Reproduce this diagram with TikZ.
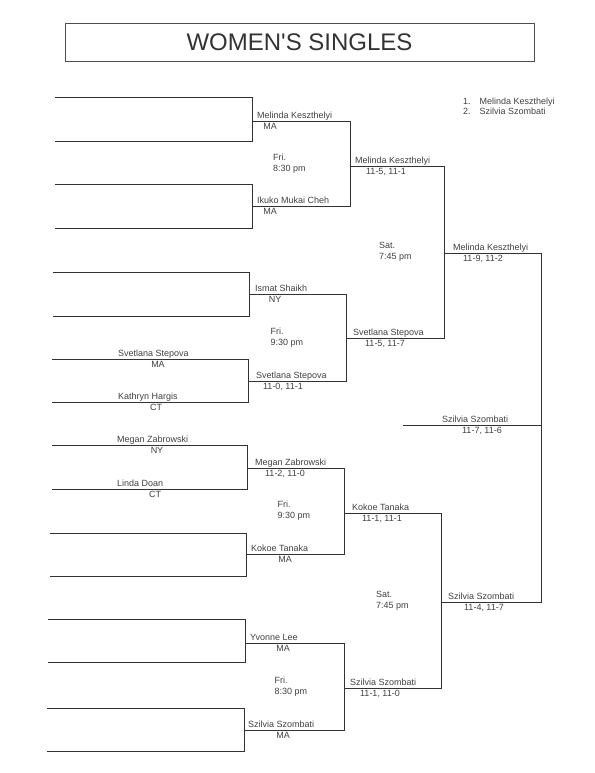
\documentclass[tikz,border=0pt]{standalone}
\usepackage{fontspec}
\setmainfont{Liberation Sans}
\usetikzlibrary{positioning,calc}

\newcommand{\slotsize}{\fontsize{9}{11}\selectfont}

\begin{document}
\begin{tikzpicture}[x=1pt, y=-1pt,
        bline/.style={draw=black!80, line width=0.7pt},
        lbl/.style={font=\slotsize, text=black!75, inner sep=0pt},
        nm/.style={lbl, anchor=base west},
        sb/.style={lbl, anchor=north}]
        \useasboundingbox (0,0) rectangle (594,773);

        \node[draw=black!70, line width=0.6pt, minimum width=469pt, minimum height=38pt, font=\fontsize{24}{28}\selectfont, text=black!80] (title) at (299.5,42.5) {WOMEN\textquotesingle S SINGLES};

        \node[lbl, align=left, font=\fontsize{9}{9.5}\selectfont, anchor=north west] (seeds) at (463,98) {1.\hspace{9pt}Melinda Keszthelyi\\2.\hspace{9pt}Szilvia Szombati};

        % first round
        \coordinate (s1l) at (55,97);    \coordinate (s1r) at (252,97);
        \coordinate (s2l) at (55,141);   \coordinate (s2r) at (252,141);
        \coordinate (s3l) at (55,184);   \coordinate (s3r) at (252,184);
        \coordinate (s4l) at (55,228);   \coordinate (s4r) at (252,228);
        \coordinate (s5l) at (53,272);   \coordinate (s5r) at (249,272);
        \coordinate (s6l) at (53,316);   \coordinate (s6r) at (249,316);
        \coordinate (s7l) at (52,359);   \coordinate (s7r) at (248,359);
        \coordinate (s8l) at (52,402);   \coordinate (s8r) at (248,402);
        \coordinate (s9l) at (52,445);   \coordinate (s9r) at (247,445);
        \coordinate (s10l) at (52,489);  \coordinate (s10r) at (247,489);
        \coordinate (s11l) at (50,533);  \coordinate (s11r) at (246,533);
        \coordinate (s12l) at (50,576);  \coordinate (s12r) at (246,576);
        \coordinate (s13l) at (48,619);  \coordinate (s13r) at (245,619);
        \coordinate (s14l) at (48,662);  \coordinate (s14r) at (245,662);
        \coordinate (s15l) at (47,708);  \coordinate (s15r) at (244,708);
        \coordinate (s16l) at (47,751);  \coordinate (s16r) at (244,751);

        \draw[bline] (s1l) -- (s1r) -- (s2r) -- (s2l);
        \draw[bline] (s3l) -- (s3r) -- (s4r) -- (s4l);
        \draw[bline] (s5l) -- (s5r) -- (s6r) -- (s6l);
        \draw[bline] (s7l) -- (s7r) -- (s8r) -- (s8l);
        \draw[bline] (s9l) -- (s9r) -- (s10r) -- (s10l);
        \draw[bline] (s11l) -- (s11r) -- (s12r) -- (s12l);
        \draw[bline] (s13l) -- (s13r) -- (s14r) -- (s14l);
        \draw[bline] (s15l) -- (s15r) -- (s16r) -- (s16l);

        \node[above right=2.5pt and 66pt of s7l, nm] (s7n) {Svetlana Stepova};
        \node[below right=2pt and 106pt of s7l, sb] (s7s) {MA};
        \node[above right=2.5pt and 66pt of s8l, nm] (s8n) {Kathryn Hargis};
        \node[below right=2pt and 104pt of s8l, sb] (s8s) {CT};
        \node[above right=2.5pt and 65pt of s9l, nm] (s9n) {Megan Zabrowski};
        \node[below right=2pt and 105pt of s9l, sb] (s9s) {NY};
        \node[above right=2.5pt and 65pt of s10l, nm] (s10n) {Linda Doan};
        \node[below right=2pt and 103pt of s10l, sb] (s10s) {CT};

        % second round
        \coordinate (q1l) at (252,121);  \coordinate (q1r) at (350,121);
        \coordinate (q2l) at (252,206);  \coordinate (q2r) at (350,206);
        \coordinate (q3l) at (249,294);  \coordinate (q3r) at (346,294);
        \coordinate (q4l) at (248,381);  \coordinate (q4r) at (346,381);
        \coordinate (q5l) at (247,468);  \coordinate (q5r) at (344,468);
        \coordinate (q6l) at (246,554);  \coordinate (q6r) at (344,554);
        \coordinate (q7l) at (245,643);  \coordinate (q7r) at (344,643);
        \coordinate (q8l) at (244,730);  \coordinate (q8r) at (344,730);

        \draw[bline] (q1l) -- (q1r) -- (q2r) -- (q2l);
        \draw[bline] (q3l) -- (q3r) -- (q4r) -- (q4l);
        \draw[bline] (q5l) -- (q5r) -- (q6r) -- (q6l);
        \draw[bline] (q7l) -- (q7r) -- (q8r) -- (q8l);

        \node[above right=2.5pt and 5pt of q1l, nm] (q1n) {Melinda Keszthelyi};
        \node[below right=2pt and 18pt of q1l, sb] (q1s) {MA};
        \node[above right=2.5pt and 5pt of q2l, nm] (q2n) {Ikuko Mukai Cheh};
        \node[below right=2pt and 18pt of q2l, sb] (q2s) {MA};
        \node[above right=2.5pt and 6pt of q3l, nm] (q3n) {Ismat Shaikh};
        \node[below right=2.5pt and 26pt of q3l, sb] (q3s) {NY};
        \node[above right=2.5pt and 8pt of q4l, nm] (q4n) {Svetlana Stepova};
        \node[below right=2.5pt and 35pt of q4l, sb] (q4s) {11-0, 11-1};
        \node[above right=2.5pt and 8pt of q5l, nm] (q5n) {Megan Zabrowski};
        \node[below right=2.5pt and 38pt of q5l, sb] (q5s) {11-2, 11-0};
        \node[above right=2.5pt and 5pt of q6l, nm] (q6n) {Kokoe Tanaka};
        \node[below right=2.5pt and 39pt of q6l, sb] (q6s) {MA};
        \node[above right=2.5pt and 5pt of q7l, nm] (q7n) {Yvonne Lee};
        \node[below right=2.5pt and 38pt of q7l, sb] (q7s) {MA};
        \node[above right=2.5pt and 4pt of q8l, nm] (q8n) {Szilvia Szombati};
        \node[below right=2.5pt and 39pt of q8l, sb] (q8s) {MA};

        \node[lbl, align=left, anchor=west] (fri1) at ($(q1l)!0.5!(q2l)+(21,0)$) {Fri.\\8:30 pm};
        \node[lbl, align=left, anchor=west] (fri2) at ($(q3l)!0.5!(q4l)+(22,0)$) {Fri.\\9:30 pm};
        \node[lbl, align=left, anchor=west] (fri3) at ($(q5l)!0.5!(q6l)+(31,0)$) {Fri.\\9:30 pm};
        \node[lbl, align=left, anchor=west] (fri4) at ($(q7l)!0.5!(q8l)+(30,0)$) {Fri.\\8:30 pm};

        % quarter finals
        \coordinate (t1l) at (350,166);  \coordinate (t1r) at (444,166);
        \coordinate (t2l) at (346,338);  \coordinate (t2r) at (444,338);
        \coordinate (t3l) at (344,513);  \coordinate (t3r) at (441,513);
        \coordinate (t4l) at (344,688);  \coordinate (t4r) at (441,688);

        \draw[bline] (t1l) -- (t1r) -- (t2r) -- (t2l);
        \draw[bline] (t3l) -- (t3r) -- (t4r) -- (t4l);

        \node[above right=2.5pt and 5pt of t1l, nm] (t1n) {Melinda Keszthelyi};
        \node[below right=2.5pt and 36pt of t1l, sb] (t1s) {11-5, 11-1};
        \node[above right=2.5pt and 7pt of t2l, nm] (t2n) {Svetlana Stepova};
        \node[below right=2.5pt and 39pt of t2l, sb] (t2s) {11-5, 11-7};
        \node[above right=2.5pt and 8pt of t3l, nm] (t3n) {Kokoe Tanaka};
        \node[below right=2.5pt and 38pt of t3l, sb] (t3s) {11-1, 11-1};
        \node[above right=2.5pt and 6pt of t4l, nm] (t4n) {Szilvia Szombati};
        \node[below right=2.5pt and 36pt of t4l, sb] (t4s) {11-1, 11-0};

        \node[lbl, align=left, anchor=west] (sat1) at ($(t1l)!0.5!(t2l)+(31,0)$) {Sat.\\7:45 pm};
        \node[lbl, align=left, anchor=west] (sat2) at ($(t3l)!0.5!(t4l)+(32,0)$) {Sat.\\7:45 pm};

        % semi finals and final
        \coordinate (u1l) at (444,253);  \coordinate (u1r) at (541,253);
        \coordinate (u2l) at (441,602);  \coordinate (u2r) at (541,602);
        \coordinate (fl) at (403,425);   \coordinate (fr) at (541,425);

        \draw[bline] (u1l) -- (u1r) -- (u2r) -- (u2l);
        \draw[bline] (fl) -- (fr);

        \node[above right=2.5pt and 9pt of u1l, nm] (u1n) {Melinda Keszthelyi};
        \node[below right=2.5pt and 39pt of u1l, sb] (u1s) {11-9, 11-2};
        \node[above right=2.5pt and 7pt of u2l, nm] (u2n) {Szilvia Szombati};
        \node[below right=2.5pt and 43pt of u2l, sb] (u2s) {11-4, 11-7};
        \node[above right=2.5pt and 39pt of fl, nm] (fn) {Szilvia Szombati};
        \node[below right=2.5pt and 79pt of fl, sb] (fs) {11-7, 11-6};
    \end{tikzpicture}
\end{document}
